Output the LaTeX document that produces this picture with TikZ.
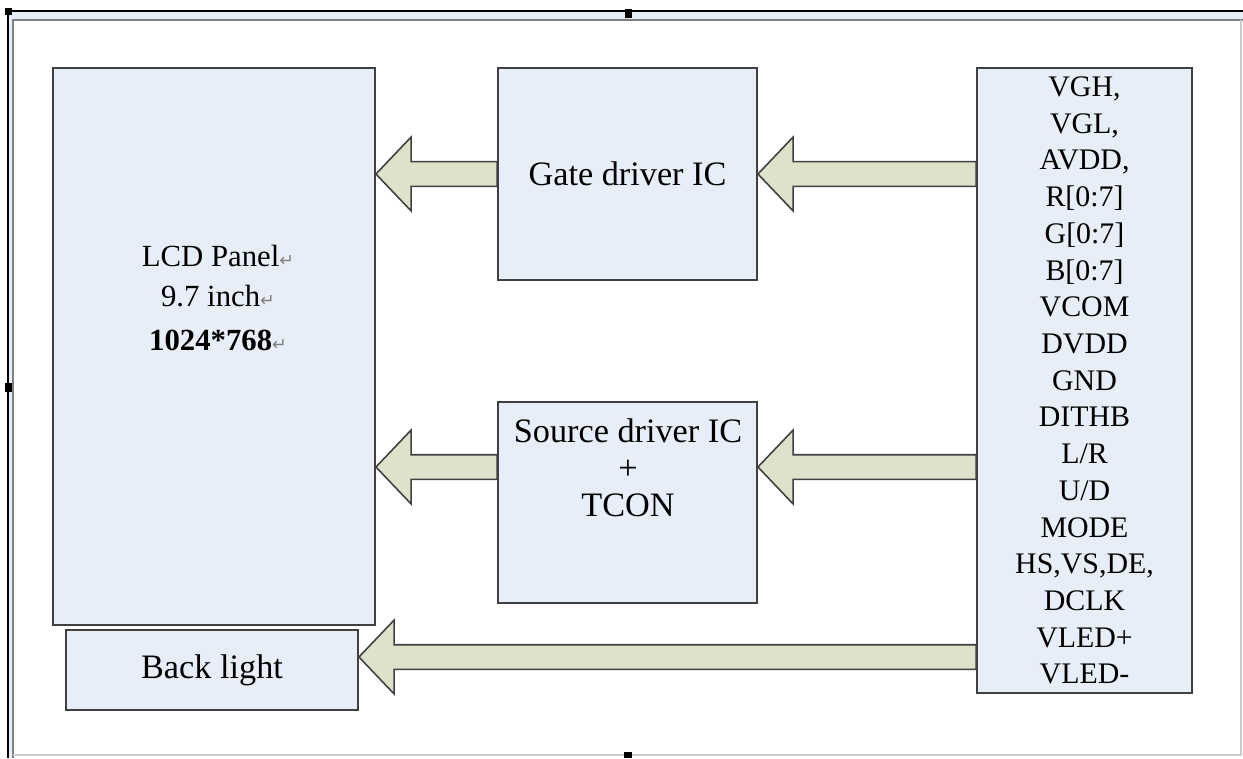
\documentclass[tikz,border=0pt]{standalone}
\usepackage{fontspec}
\setmainfont{Liberation Serif}
\newfontfamily\markfont{DejaVu Sans}
\usetikzlibrary{calc}

\definecolor{boxfill}{RGB}{232,238,248}
\definecolor{arrowfill}{RGB}{221,226,203}
\definecolor{edgegray}{RGB}{64,64,64}

% Word paragraph mark after a line
\newcommand{\parmark}{{\markfont\fontsize{10}{10}\selectfont\color{gray}↵}}

% fat block arrow: #1 = tail (shaft end), #2 = tip
\newcommand{\fatarrow}[2]{%
	\draw[fat] let \p1=#1, \p2=#2 in
		(\x1,\y1+7pt) -- (\x2+20pt,\y1+7pt) -- (\x2+20pt,\y1+21pt) -- (\x2,\y1)
		-- (\x2+20pt,\y1-21pt) -- (\x2+20pt,\y1-7pt) -- (\x1,\y1-7pt) -- cycle;}

\begin{document}
\begin{tikzpicture}[x=0.02cm,y=-0.02cm,
	block/.style={draw=edgegray,line width=1.1pt,fill=boxfill,inner sep=0pt,
		font=\fontsize{19.5}{21}\selectfont,align=center},
	fat/.style={draw=edgegray,line width=0.9pt,fill=arrowfill,line join=miter}]
		\useasboundingbox (0,0) rectangle (1243,758);

		% frame of the drawing canvas
		\fill[boxfill] (8,11) rectangle (1243,20);
		\fill[boxfill] (8,11) rectangle (13,758);
		\draw[gray,line width=1.2pt] (13,758) -- (13,20) -- (1243,20);
		\draw[black,line width=0.8pt] (8,758) -- (8,11) -- (1243,11);
		\draw[gray!40,line width=0.8pt] (13,755) -- (1241,755) -- (1241,20);
		\fill[black] (5,8) rectangle (12,15);
		\fill[black] (625,9) rectangle (632,18);
		\fill[black] (5,383) rectangle (12,392);
		\fill[black] (624,752) rectangle (632,758);

		% blocks
		\node[block,minimum width=6.44cm,minimum height=11.14cm] (lcd) at (214,346.5) {};
		\node[font=\fontsize{17.5}{23}\selectfont,align=center] (lcdtext) at (218,298)
			{LCD Panel\parmark\\9.7 inch\parmark\\[2pt]\textbf{1024*768}\parmark};
		\node[block,minimum width=5.18cm,minimum height=4.24cm] (gate) at (627.5,174)
			{Gate driver IC};
		\node[block,minimum width=5.18cm,minimum height=4.02cm] (source) at (627.5,502.5) {};
		\node[font=\fontsize{19.5}{21}\selectfont,align=center] (sourcetext) at (628,468)
			{Source driver IC\\+\\TCON};
		\node[block,font=\fontsize{17}{20.9}\selectfont,
			minimum width=4.3cm,minimum height=12.5cm] (pins) at (1084.5,380.5)
			{VGH,\\VGL,\\AVDD,\\R[0:7]\\G[0:7]\\B[0:7]\\VCOM\\DVDD\\GND\\DITHB\\L/R\\U/D\\MODE\\
			 HS,VS,DE,\\DCLK\\VLED+\\VLED-};
		\node[block,minimum width=5.84cm,minimum height=1.6cm] (back) at (212,670) {Back light};

		\coordinate (row2) at (0,467);
		\coordinate (row3) at (0,657);

		% signal arrows
		\fatarrow{(pins.west |- gate.east)}{(gate.east)}
		\fatarrow{(gate.west)}{(lcd.east |- gate.west)}
		\fatarrow{(pins.west |- row2)}{(source.east |- row2)}
		\fatarrow{(source.west |- row2)}{(lcd.east |- row2)}
		\fatarrow{(pins.west |- row3)}{(back.east |- row3)}
\end{tikzpicture}
\end{document}
